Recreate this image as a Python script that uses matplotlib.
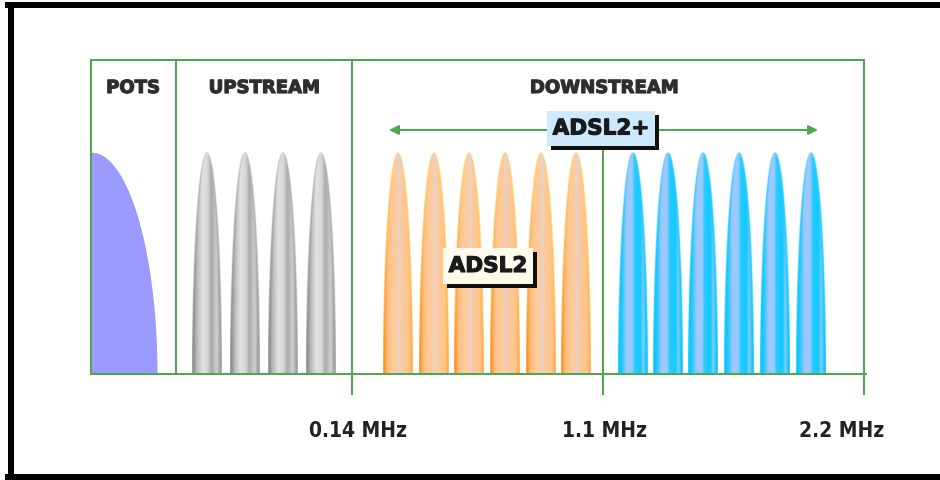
import numpy as np
import matplotlib
matplotlib.use("Agg")
import matplotlib.pyplot as plt
import matplotlib.patheffects as pe
from matplotlib.patches import Rectangle
from matplotlib.colors import to_rgb
from matplotlib import font_manager

## schematic spectrum of ADSL2 / ADSL2+ (x in schematic units, y = relative level)
band_names = ["POTS", "UPSTREAM", "DOWNSTREAM"]
band_centers = [42, 173, 513]
band_edges = [0, 84.7, 260.7, 773]
pots_width = 66
up_tones = [116, 154, 192, 230]
adsl2_tones = [307, 343, 378, 414, 450, 485]
adsl2p_tones = [542, 577, 612, 648, 684, 720]
tone_width = 30
tone_level = 1.0
tick_pos = [260.7, 512, 773]
tick_labels = ["0.14 MHz", "1.1 MHz", "2.2 MHz"]
label_pos = [267, 513, 751]

GREEN = "#4fa84f"

# colour profiles across a tone (position -1..1 across the width)
gray_stops = [(-1, "#8e8e8e"), (-0.7, "#b8b8b8"), (-0.3, "#e2e2e2"), (0.05, "#d6d6d6"),
              (0.3, "#a9a9a9"), (0.65, "#cfcfcf"), (1, "#a4a4a4")]
orange_stops = [(-1, "#ff9a30"), (-0.7, "#ffbf80"), (-0.4, "#ffc99a"), (-0.12, "#ffcb98"),
                (0.0, "#ecd0c0"), (0.15, "#ecd0be"), (0.3, "#ffc894"), (0.8, "#ffc58e"), (1, "#ffb862")]
blue_stops = [(-1, "#00c6ff"), (-0.7, "#33c8ff"), (-0.45, "#9cc8ff"), (-0.05, "#9ccaff"),
              (0.1, "#2ccbff"), (0.5, "#10cbff"), (0.72, "#8ccaff"), (1, "#00c8ff")]

# a narrow face for the frequency labels if one is installed
narrow = None
for f in font_manager.fontManager.ttflist:
    if f.name in ("Liberation Sans Narrow", "DejaVu Sans") and f.stretch in ("condensed", "semi-condensed") \
            or f.name == "Liberation Sans Narrow":
        narrow = f.name
        break
if narrow == "DejaVu Sans":
    tick_font = dict(family="DejaVu Sans", fontstretch="condensed", fontsize=15)
elif narrow:
    tick_font = dict(family=narrow, fontsize=17)
else:
    tick_font = dict(family=["Liberation Sans", "DejaVu Sans"], fontsize=15.5)


def draw_tone(ax, c, w, h, stops, edge_l, edge_r, edge_top):
    nx, ny = 60, 300
    x = np.linspace(c - w / 2, c + w / 2, nx)
    y = np.linspace(0, h, ny)
    X, Y = np.meshgrid(x, y)
    u = (X - c) / (w / 2)
    pos = [s[0] for s in stops]
    cols = np.array([to_rgb(s[1]) for s in stops])
    rgb = np.stack([np.interp(u, pos, cols[:, k]) for k in range(3)], -1)
    hw = (w / 2) * np.sqrt(np.clip(1 - (Y / h) ** 2, 0, 1))
    v = np.abs(X - c) / np.maximum(hw, 1e-6)
    t = (Y / h)[..., None]
    side = np.where((X - c)[..., None] < 0, np.array(to_rgb(edge_l)), np.array(to_rgb(edge_r)))
    edge = (1 - t) * side + t * np.array(to_rgb(edge_top))
    em = np.clip((v - 0.75) / 0.2, 0, 1)[..., None]
    rgb = rgb * (1 - em) + edge * em
    alpha = np.clip(hw - np.abs(X - c) + 0.6, 0, 1)
    img = np.dstack([rgb, alpha])
    ax.imshow(img, extent=(c - w / 2, c + w / 2, 0, h), origin="lower",
              aspect="auto", interpolation="bilinear", zorder=2)


fig = plt.figure(figsize=(9.4, 4.81), dpi=100)
fig.patch.set_facecolor("white")

# outer black frame (figure pixel coords)
W, H = 940, 481
def fx(p): return p / W
def fy(p): return 1 - p / H
frame_lw = 6 * 72 / 100
fig.add_artist(plt.Line2D([fx(11), fx(11)], [fy(6), fy(478)], color="black", lw=frame_lw))
fig.add_artist(plt.Line2D([fx(8), fx(960)], [fy(6), fy(6)], color="black", lw=frame_lw))
fig.add_artist(plt.Line2D([fx(8), fx(960)], [fy(478), fy(478)], color="black", lw=frame_lw))

ax = fig.add_axes([91 / W, (H - 375) / H, 773 / W, 314 / H])
ymax = 314 / 222
ax.set_axis_off()

# POTS band
yy = np.linspace(0, tone_level, 300)
ax.fill_betweenx(yy, 0, pots_width * np.sqrt(np.clip(1 - (yy / tone_level) ** 2, 0, 1)),
                 color="#9a9aff", lw=0, zorder=2)

for c in up_tones:
    draw_tone(ax, c, tone_width, tone_level, gray_stops, "#8a8a8a", "#9c9c9c", "#b4b4b4")
for c in adsl2_tones:
    draw_tone(ax, c, tone_width, tone_level, orange_stops, "#ff8c1c", "#ffaa48", "#ffd36a")
for c in adsl2p_tones:
    draw_tone(ax, c, tone_width, tone_level, blue_stops, "#00c8ff", "#00c8ff", "#33ccff")

# green frame and band dividers
glw = 2 * 72 / 100
ax.plot([band_edges[0], band_edges[0]], [0, ymax], color=GREEN, lw=glw, zorder=3, clip_on=False)
ax.plot([band_edges[0], band_edges[-1]], [ymax, ymax], color=GREEN, lw=glw, zorder=3, clip_on=False)
ax.plot([band_edges[-1], band_edges[-1]], [0, ymax], color=GREEN, lw=glw, zorder=3, clip_on=False)
for b in band_edges[1:-1]:
    ax.plot([b, b], [0, ymax], color=GREEN, lw=glw, zorder=3, clip_on=False)
ax.plot([0, band_edges[-1] + 2], [0, 0], color=GREEN, lw=glw, zorder=3, clip_on=False)

tick_len = 20 / 222
for p in tick_pos:
    ax.plot([p, p], [0, -tick_len], color=GREEN, lw=glw, zorder=3, clip_on=False)
for p, lab in zip(label_pos, tick_labels):
    ax.text(p, -62 / 222, lab, ha="center", va="baseline", fontweight="bold",
            color="#222222", **tick_font)

# band headers
for c, name in zip(band_centers, band_names):
    ax.text(c, (375 - 89) / 222, name, ha="center", va="center", fontsize=13,
            fontweight="bold", color="#2e2e2e",
            path_effects=[pe.withStroke(linewidth=0.9, foreground="#3a3a3a")])

# ADSL2+ range arrow and 1.1 MHz divider
arrow_y = (375 - 131) / 222
ax.plot([tick_pos[1], tick_pos[1]], [0, arrow_y], color=GREEN, lw=glw, zorder=3)
ax.annotate("", xy=(298, arrow_y), xytext=(727, arrow_y),
            arrowprops=dict(arrowstyle="<|-|>", color=GREEN, lw=glw, mutation_scale=14,
                            shrinkA=0, shrinkB=0), zorder=3)

def label_box(x0, x1, y0, y1, text, face):
    dx, dy = 4, 4 / 222
    ax.add_patch(Rectangle((x0 + dx, y0 - dy), x1 - x0, y1 - y0, color="#111111", lw=0, zorder=4))
    ax.add_patch(Rectangle((x0, y0), x1 - x0, y1 - y0, color=face, lw=0, zorder=5))
    ax.text((x0 + x1) / 2, (y0 + y1) / 2, text, ha="center", va="center", fontsize=15.5,
            fontweight="bold", color="#1a1a1a", zorder=6,
            path_effects=[pe.withStroke(linewidth=0.8, foreground="#1a1a1a")])

label_box(456, 564, (375 - 147) / 222, (375 - 112) / 222, "ADSL2+", "#cde9fb")
label_box(352, 442, (375 - 285) / 222, (375 - 249) / 222, "ADSL2", "#fffbec")

ax.set_xlim(0, 773)
ax.set_ylim(0, ymax)

fig.savefig("out.png", dpi=100, facecolor="white")
